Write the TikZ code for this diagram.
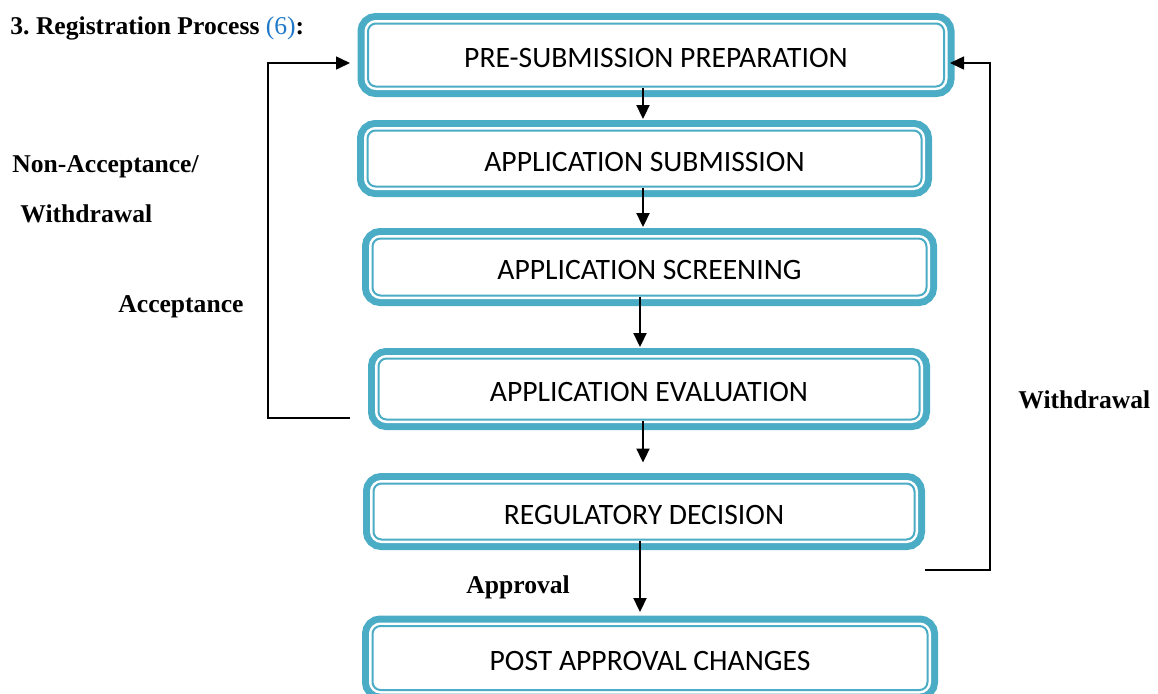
\documentclass[tikz,border=0pt]{standalone}
\usepackage{fontspec}
\setmainfont{Liberation Serif}
\newfontfamily\boxfont{Carlito}
\usetikzlibrary{arrows.meta}

\definecolor{boxteal}{RGB}{75,172,198}
\definecolor{refblue}{RGB}{31,120,200}

\tikzset{
  stagebox/.style={draw=boxteal, line width=1pt, fill=white, rounded corners=4pt,
    preaction={draw=boxteal, line width=10.5pt},
    preaction={draw=white, line width=3.5pt},
    font=\boxfont\fontsize{14.8}{17}\selectfont, inner sep=0pt,
    text height=12.5pt, text depth=0pt},
  steplabel/.style={anchor=west, font=\bfseries\fontsize{12.8}{15}\selectfont, inner sep=0pt},
  flow/.style={->, line width=1.1pt},
  loop/.style={->, line width=0.8pt}
}

\begin{document}
\frenchspacing
\begin{tikzpicture}[x=0.5pt, y=-0.5pt, >={Triangle[length=7pt,width=6.5pt]}]

      \useasboundingbox (0,0) rectangle (1158,693);

      % stages
      \node[stagebox, minimum width=288pt, minimum height=31.5pt] (b1) at (656,55) {PRE-SUBMISSION PREPARATION};
      \node[stagebox, minimum width=277pt, minimum height=28pt] (b2) at (644.5,158.5) {APPLICATION SUBMISSION};
      \node[stagebox, minimum width=277pt, minimum height=28.5pt] (b3) at (649.5,267) {APPLICATION SCREENING};
      \node[stagebox, minimum width=270.5pt, minimum height=30.5pt] (b4) at (649,389) {APPLICATION EVALUATION};
      \node[stagebox, minimum width=270.5pt, minimum height=28pt] (b5) at (644,511.5) {REGULATORY DECISION};
      \node[stagebox, minimum width=277.5pt, minimum height=32pt] (b6) at (650,658) {POST APPROVAL CHANGES};

      % flow
      \draw[flow, shorten >=5.25pt] (b1.south -| 643,0) -- (b2.north -| 643,0);
      \draw[flow, shorten >=5.25pt] (b2.south -| 643,0) -- (b3.north -| 643,0);
      \draw[flow, shorten >=5.25pt] (b3.south -| 640,0) -- (b4.north -| 640,0);
      \draw[flow, shorten >=10pt] (b4.south -| 643,0) -- (b5.north -| 643,0);
      \draw[flow, shorten >=6.5pt] (b5.south -| 640,0) -- (b6.north -| 640,0);

      % loops
      \coordinate (lstart) at (350,418);
      \coordinate (lend) at (350,63);
      \coordinate (rstart) at (925,570);
      \coordinate (rend) at (950,63);
      \draw[loop] (lstart) -- (268,418) -- (268,63) -- (lend);
      \draw[loop] (rstart) -- (990,570) -- (990,63) -- (rend);

      % labels
      \node[steplabel] (title) at (10,28) {3. Registration Process \textcolor{refblue}{\mdseries(6)}:};
      \node[steplabel] (nonacc) at (12,167) {Non-Acceptance/};
      \node[steplabel] (withl) at (20,214) {Withdrawal};
      \node[steplabel] (acc) at (118,307) {Acceptance};
      \node[steplabel] (withr) at (1018,400) {Withdrawal};
      \node[steplabel] (appr) at (466,587) {Approval};

    \end{tikzpicture}
\end{document}
